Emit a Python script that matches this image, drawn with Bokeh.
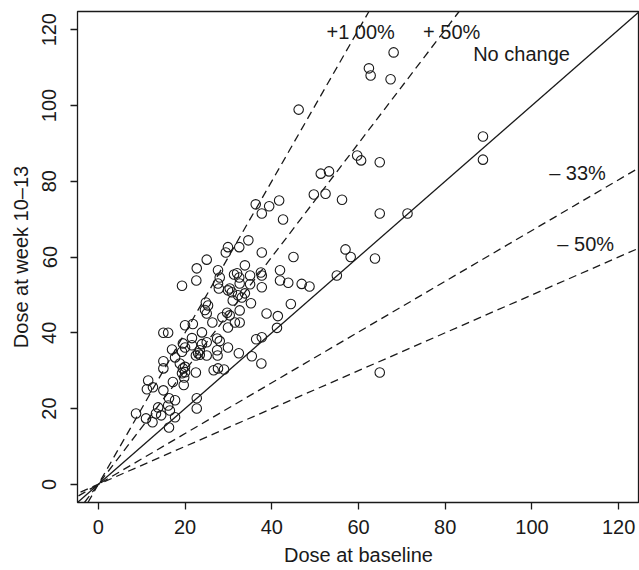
from bokeh.plotting import figure
from bokeh.models import Range1d, Slope, Label, FixedTicker
from bokeh.embed import file_html
from bokeh.resources import INLINE

# Baseline dose (x) and dose at week 10-13 (y)
baseline = [
    8.7, 11.0, 11.5, 11.2, 12.6, 15.0, 15.0, 15.0, 16.1, 13.3,
    14.5, 12.5, 13.8, 17.0, 17.2, 17.7, 16.3, 16.1, 16.5, 17.7,
    16.3, 15.0, 19.7, 17.7, 18.8, 19.3, 19.5, 20.0, 19.8, 20.0,
    19.3, 20.0, 20.0, 19.5, 21.6, 21.6, 21.8, 22.5, 22.7, 22.7,
    22.5, 23.0, 23.4, 23.4, 23.9, 23.9, 25.0, 25.0, 25.0, 24.6,
    25.3, 24.8, 26.3, 26.6, 27.6, 27.4, 28.0, 27.5, 27.4, 28.6,
    29.0, 29.9, 29.7, 30.3, 29.9, 31.0, 30.8, 30.3, 29.9, 32.4,
    32.6, 31.5, 32.6, 32.2, 33.1, 33.8, 35.2, 35.4, 36.4, 37.7,
    37.6, 38.8, 41.4, 41.2, 44.4, 19.3, 22.6, 22.7, 27.6, 27.8,
    27.6, 28.0, 25.0, 29.9, 29.4, 32.5, 34.6, 37.7, 45.0, 33.8,
    31.3, 32.0, 32.5, 35.0, 37.5, 37.7, 41.9, 32.6, 35.0, 37.7,
    41.9, 43.8, 46.9, 48.7, 36.3, 39.4, 41.7, 37.7, 42.6, 46.2,
    49.7, 52.4, 56.2, 51.3, 53.2, 59.7, 60.6, 64.9, 62.4, 62.8,
    67.4, 68.1, 88.7, 88.7, 64.9, 71.3, 57.0, 58.2, 63.8, 55.0,
    64.9,
]
week10_13 = [
    18.7, 17.4, 27.4, 25.1, 25.6, 30.6, 32.5, 40.0, 40.0, 18.7,
    18.2, 16.4, 20.3, 35.6, 27.0, 22.2, 22.7, 20.8, 19.5, 17.7,
    15.0, 24.8, 26.2, 33.5, 31.9, 29.3, 30.6, 31.0, 28.2, 29.6,
    35.0, 42.0, 36.1, 37.2, 38.6, 36.7, 42.3, 29.5, 22.7, 20.0,
    34.0, 34.6, 34.2, 35.4, 40.1, 37.0, 37.5, 34.0, 45.1, 46.0,
    47.2, 48.0, 42.7, 30.1, 30.6, 38.5, 37.8, 34.0, 35.4, 44.1,
    30.3, 36.1, 45.3, 44.6, 41.4, 48.5, 50.7, 51.7, 51.2, 34.6,
    42.7, 42.7, 45.9, 49.9, 49.3, 50.4, 47.8, 33.8, 38.3, 38.8,
    31.9, 45.1, 44.4, 41.3, 47.6, 52.4, 53.8, 57.0, 53.0, 51.7,
    56.5, 54.6, 59.3, 62.6, 61.2, 62.6, 64.4, 61.2, 60.0, 57.8,
    55.4, 55.7, 54.6, 55.1, 55.9, 55.1, 56.5, 53.0, 52.8, 52.0,
    53.8, 53.2, 52.9, 52.2, 73.9, 73.4, 74.9, 71.5, 69.9, 98.9,
    76.5, 76.7, 75.1, 82.0, 82.6, 86.8, 85.5, 85.0, 109.8, 107.9,
    106.9, 114.0, 91.8, 85.7, 71.5, 71.5, 62.0, 60.0, 59.6, 55.1,
    29.5,
]

# Reference lines: ratio of week-10-13 dose to baseline dose
ratio_labels = ["+1 00%", "+ 50%", "No change", "\u2013 33%", "\u2013 50%"]
ratios = [2.0, 1.5, 1.0, 0.67, 0.5]
ratio_dash = ["dashed", "dashed", "solid", "dashed", "dashed"]
label_x = [60.5, 81.5, 97.6, 110.5, 112.4]
label_y = [119.4, 119.4, 113.6, 82.1, 63.5]

ticks = [0, 20, 40, 60, 80, 100, 120]
x_title = "Dose at baseline"
y_title = "Dose at week 10\u201313"

INK = "#1a1a1a"
FONT = "Liberation Sans"

p = figure(width=639, height=570, output_backend="svg", toolbar_location=None,
           x_range=Range1d(-4.8, 124.8), y_range=Range1d(-4.8, 124.8),
           min_border_left=77, min_border_right=0, min_border_top=11,
           min_border_bottom=68)
p.background_fill_color = "white"
p.border_fill_color = "white"
p.outline_line_color = INK
p.outline_line_width = 1.3
p.grid.visible = False

for r, d in zip(ratios, ratio_dash):
    p.add_layout(Slope(gradient=r, y_intercept=0, line_color=INK,
                       line_width=1.3,
                       line_dash="8 5" if d == "dashed" else "solid"))

p.scatter(baseline, week10_13, marker="circle", size=9.5, fill_color=None,
          line_color=INK, line_width=1.1)

for t, lx, ly in zip(ratio_labels, label_x, label_y):
    p.add_layout(Label(x=lx, y=ly, text=t, text_align="center",
                       text_baseline="middle", text_font=FONT,
                       text_font_size="20px", text_color=INK))

for ax in (p.xaxis[0], p.yaxis[0]):
    ax.ticker = FixedTicker(ticks=ticks)
    ax.axis_line_color = None
    ax.major_tick_line_color = INK
    ax.major_tick_line_width = 1.3
    ax.major_tick_out = 7
    ax.major_tick_in = 0
    ax.minor_tick_line_color = None
    ax.major_label_text_font = FONT
    ax.major_label_text_font_size = "20px"
    ax.major_label_text_color = INK
    ax.axis_label_text_font = FONT
    ax.axis_label_text_font_size = "20px"
    ax.axis_label_text_font_style = "normal"
    ax.axis_label_text_color = INK

p.xaxis[0].axis_label = x_title
p.xaxis[0].major_label_standoff = 10
p.xaxis[0].axis_label_standoff = 7
p.yaxis[0].axis_label = y_title
p.yaxis[0].major_label_orientation = "vertical"
p.yaxis[0].major_label_standoff = 14
p.yaxis[0].axis_label_standoff = 8

open("out.html", "w").write(file_html(p, INLINE))
